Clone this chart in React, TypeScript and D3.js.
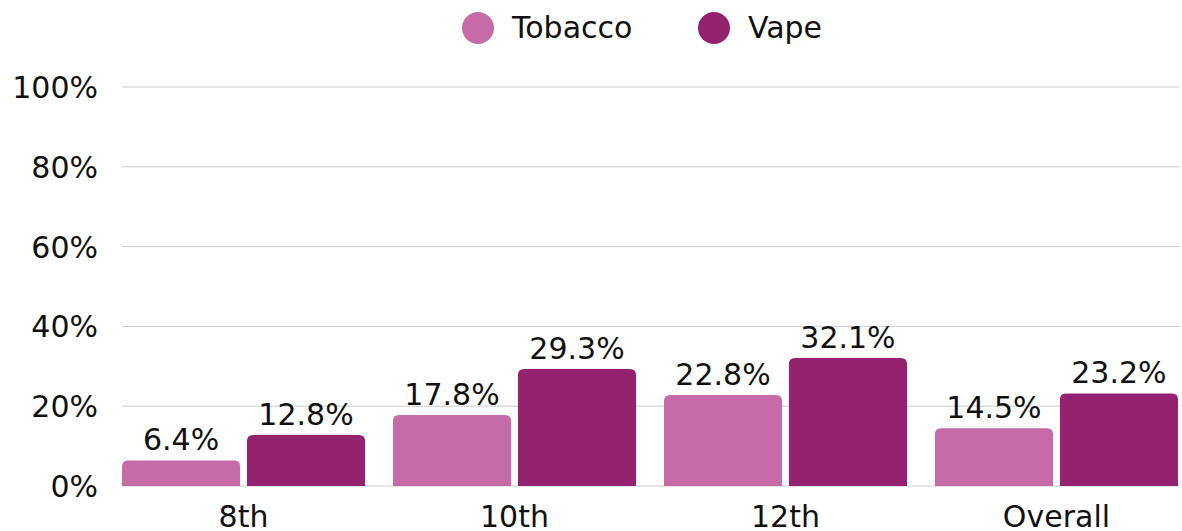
import React from "react";
import * as d3 from "d3";

const categories = ["8th", "10th", "12th", "Overall"];
const seriesNames = ["Tobacco", "Vape"];
const tobacco = [6.4, 17.8, 22.8, 14.5];
const vape = [12.8, 29.3, 32.1, 23.2];
const yTicks = [0, 20, 40, 60, 80, 100];
const colors = ["#C76BA8", "#94226E"];

const W = 1182;
const H = 531;
const FONT = "'DejaVu Sans', 'Noto Sans', sans-serif";
const FS = 30;

function roundedTopBar(x: number, y: number, w: number, h: number, r: number) {
  const rr = Math.min(r, h, w / 2);
  return `M${x},${y + h}V${y + rr}Q${x},${y} ${x + rr},${y}H${x + w - rr}Q${x + w},${y} ${x + w},${y + rr}V${y + h}Z`;
}

export default function App() {
  const left = 122;
  const right = 1178;
  const top = 87;
  const bottom = 486;
  const x0 = d3.scaleBand<string>().domain(categories).range([left, right]).paddingInner(0.103).paddingOuter(0);
  const x1 = d3.scaleBand<string>().domain(seriesNames).range([0, x0.bandwidth()]).paddingInner(0.055);
  const y = d3.scaleLinear().domain([0, 100]).range([bottom, top]);
  const data = [tobacco, vape];
  const fmt = (v: number) => `${v.toFixed(1)}%`;

  return (
    <svg width={W} height={H} style={{ position: "absolute", left: 0, top: 0, background: "#fff" }} fontFamily={FONT}>
      {yTicks.map((t) => (
        <g key={t}>
          <line x1={left} x2={1180} y1={y(t)} y2={y(t)} stroke="#cccccc" strokeWidth={1} />
          <text x={98} y={y(t) + 11} textAnchor="end" fontSize={FS} fill="#111">
            {t}%
          </text>
        </g>
      ))}
      {categories.map((c, i) => (
        <g key={c}>
          {seriesNames.map((s, j) => {
            const v = data[j][i];
            const bx = (x0(c) as number) + (x1(s) as number);
            const bw = x1.bandwidth();
            const by = y(v);
            return (
              <g key={s}>
                <path d={roundedTopBar(bx, by, bw, bottom - by, 6)} fill={colors[j]} />
                <text x={bx + bw / 2} y={by - 10} textAnchor="middle" fontSize={FS} fill="#111">
                  {fmt(v)}
                </text>
              </g>
            );
          })}
          <text x={(x0(c) as number) + x0.bandwidth() / 2} y={527} textAnchor="middle" fontSize={FS} fill="#111">
            {c}
          </text>
        </g>
      ))}
      {seriesNames.map((s, j) => {
        const cx = j === 0 ? 478 : 714;
        return (
          <g key={s}>
            <circle cx={cx} cy={28} r={16} fill={colors[j]} />
            <text x={cx + 34} y={38} fontSize={FS} fill="#111">
              {s}
            </text>
          </g>
        );
      })}
    </svg>
  );
}
